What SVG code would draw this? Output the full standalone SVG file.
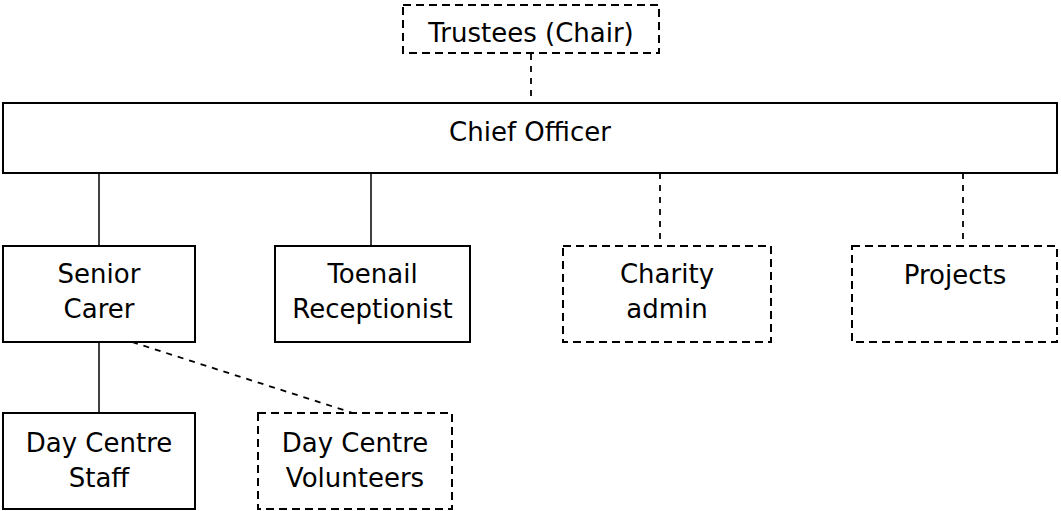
<svg xmlns="http://www.w3.org/2000/svg" width="1061" height="511" viewBox="0 0 1061 511">
<style>
.box{fill:#fff;stroke:#000;stroke-width:2}
.dbox{fill:#fff;stroke:#000;stroke-width:2;stroke-dasharray:8 5}
.ln{stroke:#000;stroke-width:1.5;fill:none}
.dln{stroke:#000;stroke-width:1.8;fill:none;stroke-dasharray:6 6}
text{font-family:"DejaVu Sans",sans-serif;font-size:26px;fill:#000;text-anchor:middle}
</style>
<rect width="1061" height="511" fill="#fff"/>
<g id="connectors">
<line class="dln" x1="531" y1="54" x2="531" y2="103"/>
<line class="ln" x1="99" y1="173" x2="99" y2="246"/>
<line class="ln" x1="371" y1="173" x2="371" y2="246"/>
<line class="dln" x1="660" y1="173" x2="660" y2="246"/>
<line class="dln" x1="963" y1="173" x2="963" y2="246"/>
<line class="ln" x1="99" y1="342" x2="99" y2="413"/>
<line class="dln" x1="132" y1="342" x2="353" y2="413"/>
</g>
<g id="trustees">
<rect class="dbox" x="403" y="5" width="256" height="48"/>
<text x="531" y="42">Trustees (Chair)</text>
</g>
<g id="chief-officer">
<rect class="box" x="3" y="103" width="1054" height="70"/>
<text x="530" y="141">Chief Officer</text>
</g>
<g id="senior-carer">
<rect class="box" x="3" y="246" width="192" height="96"/>
<text x="99" y="283">Senior</text>
<text x="99" y="318">Carer</text>
</g>
<g id="toenail-receptionist">
<rect class="box" x="275" y="246" width="195" height="96"/>
<text x="372.5" y="283">Toenail</text>
<text x="372.5" y="318">Receptionist</text>
</g>
<g id="charity-admin">
<rect class="dbox" x="563" y="246" width="208" height="96"/>
<text x="667" y="283">Charity</text>
<text x="667" y="318">admin</text>
</g>
<g id="projects">
<rect class="dbox" x="852" y="246" width="205" height="96"/>
<text x="955" y="284">Projects</text>
</g>
<g id="day-centre-staff">
<rect class="box" x="3" y="413" width="192" height="96"/>
<text x="99" y="452">Day Centre</text>
<text x="99" y="487">Staff</text>
</g>
<g id="day-centre-volunteers">
<rect class="dbox" x="258" y="413" width="194" height="96"/>
<text x="355" y="452">Day Centre</text>
<text x="355" y="487">Volunteers</text>
</g>
</svg>
